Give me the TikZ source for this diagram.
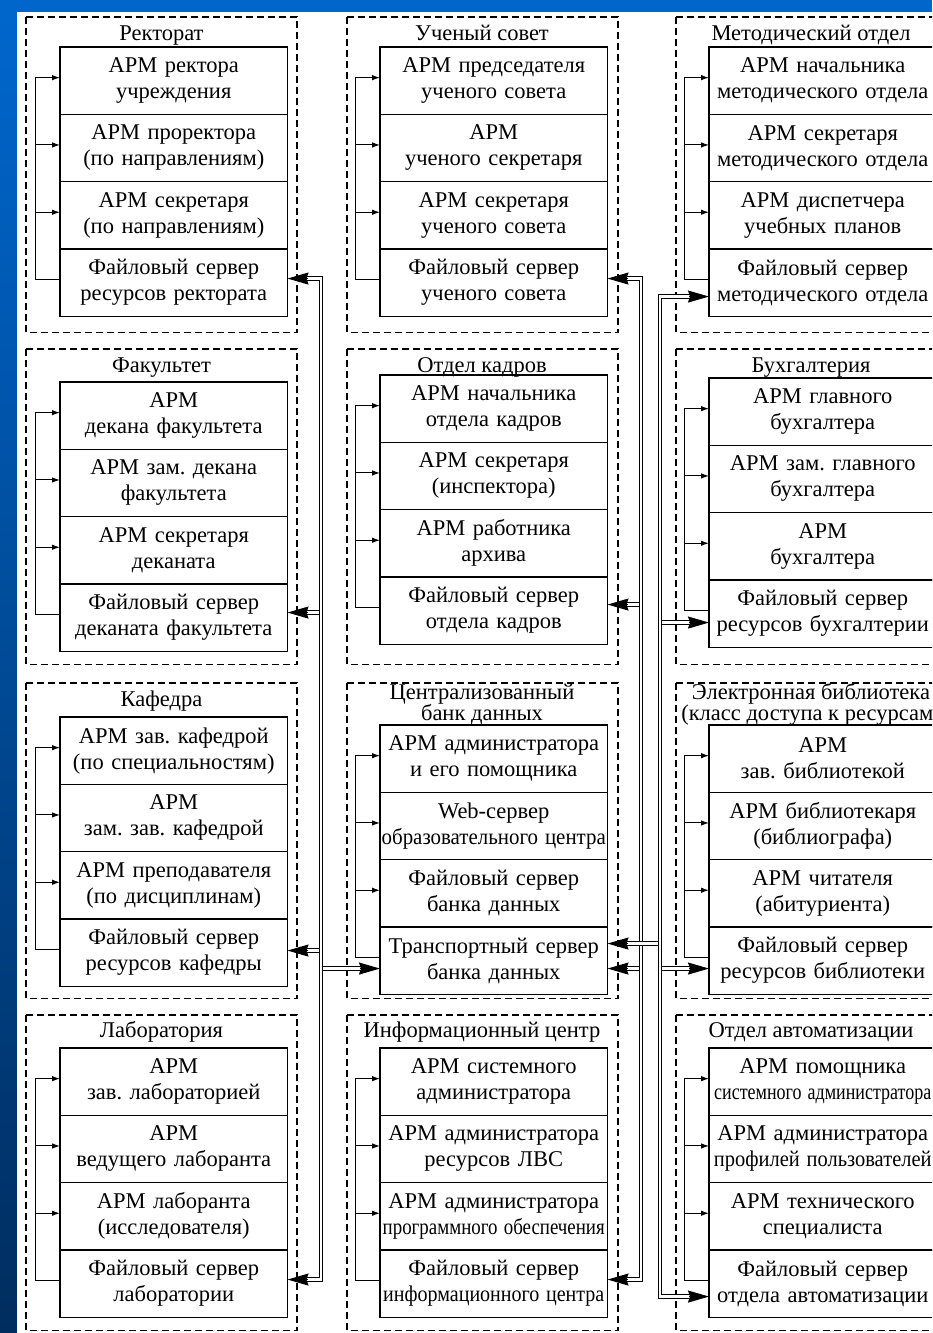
\documentclass[tikz,border=0pt]{standalone}
\usepackage{fontspec}
\setmainfont{Liberation Serif}
\usepackage{graphicx}
\usetikzlibrary{arrows.meta,positioning}

\definecolor{slideblue}{RGB}{0,102,204}
\definecolor{slidenavy}{RGB}{0,45,95}

\newcommand{\boxfont}{\frenchspacing\fontsize{22.5}{26}\selectfont}
\newcommand{\titlefont}{\frenchspacing\fontsize{22.5}{21}\selectfont}
\newcommand{\squeeze}[2]{\scalebox{#1}[1]{#2}}

% one department: three workstations, a server and the feeder line
\newcommand{\deptcolumn}[6]{%
  \node[unit, anchor=north west] (#1a) at (#2) {#3};
  \node[unit, below=0pt of #1a] (#1b) {#4};
  \node[unit, below=0pt of #1b] (#1c) {#5};
  \node[unit, below=0pt of #1c] (#1d) {#6};
  \coordinate (#1f) at ([xshift=-25pt,yshift=3pt]#1d.west);
  \draw[feed] (#1f) -- (#1f -| #1d.west);
  \foreach \k in {a,b,c}
    \draw[feed, -{FeedTip}] (#1f) |- ([yshift=3pt]#1\k.west);
}

\begin{document}
\begin{tikzpicture}[
    x=1pt, y=1pt,
    unit/.style={draw, line width=1.2pt, text width=225pt, inner xsep=1.25pt, inner ysep=0pt,
                 outer sep=0pt, minimum height=67.3pt, align=center, font=\boxfont},
    grouptitle/.style={align=center, inner sep=0pt, font=\titlefont},
    onetitle/.style={grouptitle, text height=15pt, text depth=5pt},
    frame/.style={draw, line width=1.1pt, dash pattern=on 7pt off 4pt},
    feed/.style={line width=1pt},
    bus/.style={double, line width=1.2pt, double distance=2.2pt},
    bustip/.style={line width=1.2pt, -{BusTip}},
    FeedTip/.tip={Latex[length=8pt,width=5.5pt]},
    BusTip/.tip={Stealth[length=21pt,width=12pt,inset=2pt]}
]
    \useasboundingbox (0,0) rectangle (932,-1333);
    \clip (0,0) rectangle (932,-1333);
    \fill[slideblue] (0,0) rectangle (932,-12);
    \shade[top color=slideblue, bottom color=slidenavy] (0,-12) rectangle (17,-1333);
    \fill[white] (17,-12) rectangle (932,-1333);

    % dashed department frames
    \foreach \fx in {26,347,676}
      \foreach \fy in {17,349,683,1015}
        \draw[frame] (\fx,-\fy) rectangle ++(271,-315.5);

    % titles
    \node[onetitle] (tRk) at (161.5,-35) {Ректорат};
    \node[onetitle] (tUs) at (482,-35) {Ученый совет};
    \node[onetitle] (tMo) at (811,-35) {Методический отдел};
    \node[onetitle] (tFk) at (161.5,-367) {Факультет};
    \node[onetitle] (tOk) at (482,-367) {Отдел кадров};
    \node[onetitle] (tBu) at (811,-367) {Бухгалтерия};
    \node[onetitle] (tKf) at (161.5,-701) {Кафедра};
    \node[grouptitle] (tBd) at (482,-704) {Централизованный\\банк данных};
    \node[grouptitle] (tEl) at (811,-704) {Электронная библиотека\\(класс доступа к ресурсам)};
    \node[onetitle] (tLb) at (161.5,-1032) {Лаборатория};
    \node[onetitle] (tIc) at (482,-1032) {Информационный центр};
    \node[onetitle] (tOa) at (811,-1032) {Отдел автоматизации};

    % departments
    \deptcolumn{rk}{60,-47}{АРМ ректора\\учреждения}{АРМ проректора\\(по направлениям)}
      {АРМ секретаря\\(по направлениям)}{Файловый сервер\\ресурсов ректората}
    \deptcolumn{us}{380,-47}{АРМ председателя\\ученого совета}{АРМ\\ученого секретаря}
      {АРМ секретаря\\ученого совета}{Файловый сервер\\ученого совета}
    \deptcolumn{mo}{709,-47}{АРМ начальника\\методического отдела}{АРМ секретаря\\методического отдела}
      {АРМ диспетчера\\учебных планов}{Файловый сервер\\методического отдела}
    \deptcolumn{fk}{60,-382}{АРМ\\декана факультета}{АРМ зам. декана\\факультета}
      {АРМ секретаря\\деканата}{Файловый сервер\\деканата факультета}
    \deptcolumn{ok}{380,-375}{АРМ начальника\\отдела кадров}{АРМ секретаря\\(инспектора)}
      {АРМ работника\\архива}{Файловый сервер\\отдела кадров}
    \deptcolumn{bu}{709,-378}{АРМ главного\\бухгалтера}{АРМ зам. главного\\бухгалтера}
      {АРМ\\бухгалтера}{Файловый сервер\\ресурсов бухгалтерии}
    \deptcolumn{kf}{60,-717}{АРМ зав. кафедрой\\(по специальностям)}{АРМ\\зам. зав. кафедрой}
      {АРМ преподавателя\\(по дисциплинам)}{Файловый сервер\\ресурсов кафедры}
    \deptcolumn{bd}{380,-725}{АРМ администратора\\и его помощника}
      {Web-сервер\\\squeeze{0.93}{образовательного центра}}
      {Файловый сервер\\банка данных}{Транспортный сервер\\банка данных}
    \deptcolumn{el}{709,-725}{АРМ\\зав. библиотекой}{АРМ библиотекаря\\(библиографа)}
      {АРМ читателя\\(абитуриента)}{Файловый сервер\\ресурсов библиотеки}
    \deptcolumn{lb}{60,-1048}{АРМ\\зав. лабораторией}{АРМ\\ведущего лаборанта}
      {АРМ лаборанта\\(исследователя)}{Файловый сервер\\лаборатории}
    \deptcolumn{ic}{380,-1048}{АРМ системного\\администратора}{АРМ администратора\\ресурсов ЛВС}
      {АРМ администратора\\\squeeze{0.84}{программного обеспечения}}
      {Файловый сервер\\\squeeze{0.89}{информационного центра}}
    \deptcolumn{oa}{709,-1048}{АРМ помощника\\\squeeze{0.8}{системного администратора}}
      {АРМ администратора\\\squeeze{0.91}{профилей пользователей}}
      {АРМ технического\\специалиста}{Файловый сервер\\отдела автоматизации}

    % bus lines and arrow points
    \coordinate (busL) at (321,-700);
    \coordinate (busA) at (641,-700);
    \coordinate (busB) at (660,-700);

    \coordinate (pRk) at ([yshift=4pt]rkd.east);
    \coordinate (pFk) at ([yshift=5pt]fkd.east);
    \coordinate (pKf) at ([yshift=2pt]kfd.east);
    \coordinate (pLb) at ([yshift=4pt]lbd.east);
    \coordinate (pTrL) at ([yshift=-8pt]bdd.west);
    \coordinate (pUs) at ([yshift=4pt]usd.east);
    \coordinate (pOk) at ([yshift=6pt]okd.east);
    \coordinate (pTrA) at ([yshift=-8pt]bdd.east);
    \coordinate (pIc) at ([yshift=4pt]icd.east);
    \coordinate (pTrB) at ([yshift=17pt]bdd.east);
    \coordinate (pMo) at ([yshift=-14pt]mod.west);
    \coordinate (pBu) at ([yshift=-9pt]bud.west);
    \coordinate (pEl) at ([yshift=-8pt]eld.west);
    \coordinate (pOa) at ([yshift=-13pt]oad.west);

    % left bus
    \draw[bus] ([xshift=12pt]pFk) -| (busL);
    \draw[bus] ([xshift=12pt]pKf) -| (busL);
    \draw[bus] (busL) |- ([xshift=-12pt]pTrL);
    \draw[bus] ([xshift=12pt]pRk) -| (busL) |- ([xshift=12pt]pLb);
    % right bus, inner line
    \draw[bus] ([xshift=12pt]pOk) -| (busA);
    \draw[bus] ([xshift=12pt]pTrA) -| (busA);
    \draw[bus] ([xshift=12pt]pUs) -| (busA) |- ([xshift=12pt]pIc);
    % right bus, outer line
    \draw[bus] ([xshift=12pt]pTrB) -| (busB);
    \draw[bus] (busB) |- ([xshift=-12pt]pBu);
    \draw[bus] (busB) |- ([xshift=-12pt]pEl);
    \draw[bus] ([xshift=-12pt]pMo) -| (busB) |- ([xshift=-12pt]pOa);

    % arrow heads
    \foreach \p in {pRk,pFk,pKf,pLb,pUs,pOk,pTrA,pIc,pTrB}
      \draw[bustip] ([xshift=20pt]\p) -- (\p);
    \foreach \p in {pTrL,pMo,pBu,pEl,pOa}
      \draw[bustip] ([xshift=-20pt]\p) -- (\p);
\end{tikzpicture}
\end{document}
